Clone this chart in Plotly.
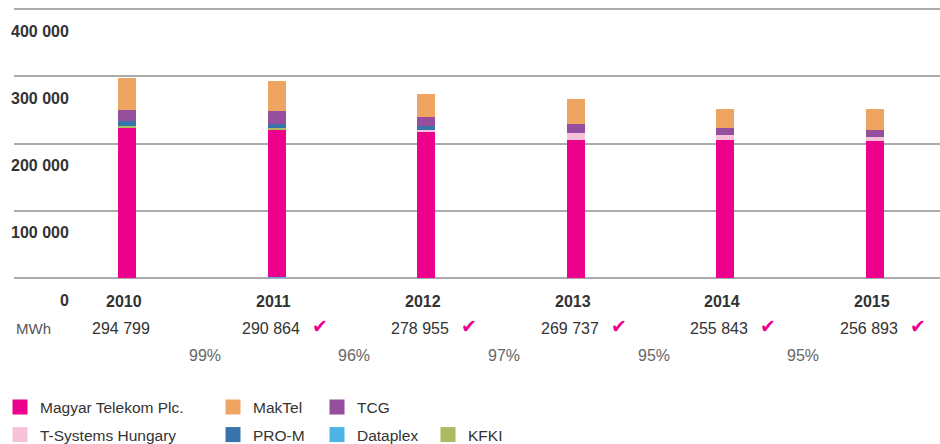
import plotly.graph_objects as go

# ---------------- data ----------------
years = ["2010", "2011", "2012", "2013", "2014", "2015"]
dataplex = [0, 1500, 0, 0, 0, 0]
magyar_telekom = [223300, 218600, 216700, 205200, 204800, 203300]
t_systems = [0, 0, 3400, 10400, 7400, 5900]
kfki = [2500, 3000, 0, 0, 0, 0]
pro_m = [7400, 5900, 6400, 0, 0, 0]
tcg = [16300, 19300, 13400, 13400, 10400, 10400]
maktel = [47900, 44500, 33700, 37100, 28200, 31200]

total_labels = ["294 799", "290 864", "278 955", "269 737", "255 843", "256 893"]
target_met = [False, True, True, True, True, True]
change_labels = ["99%", "96%", "97%", "95%", "95%"]
y_ticks = [0, 100000, 200000, 300000, 400000]
unit_label = "MWh"

# ---------------- styles ----------------
series = [
    ("Dataplex", dataplex, "#4DB3E6"),
    ("Magyar Telekom Plc.", magyar_telekom, "#EC008C"),
    ("T-Systems Hungary", t_systems, "#F6C2D9"),
    ("KFKI", kfki, "#ADBA62"),
    ("PRO-M", pro_m, "#3674AB"),
    ("TCG", tcg, "#964F9D"),
    ("MakTel", maktel, "#EFA561"),
]
legend_slots = {
    "Magyar Telekom Plc.": (14, 0), "MakTel": (227, 0), "TCG": (331, 0),
    "T-Systems Hungary": (14, 1), "PRO-M": (227, 1), "Dataplex": (331, 1),
    "KFKI": (442, 1),
}
legend_order = ["Magyar Telekom Plc.", "MakTel", "TCG", "T-Systems Hungary",
                "PRO-M", "Dataplex", "KFKI"]

W, H = 940, 444
PL, PR, PT, PB = 14, 940, 6, 278
TOP_GRID_PX = 9          # pixel row of the 400 000 gridline
FONT = "Liberation Sans, Arial, sans-serif"
DARK = "#333333"
GRID = "#ababab"

y_top = max(y_ticks)
y_max = y_top * (PB - PT) / (PB - TOP_GRID_PX)


def px_x(x):
    return (x - PL) / (PR - PL)


def px_y(y):
    return (PB - y) / (PB - PT)


fig = go.Figure()
for name, vals, col in series:
    fig.add_trace(go.Bar(x=years, y=vals, name=name, marker=dict(color=col, line=dict(width=0)),
                         showlegend=False, hoverinfo="skip"))

colors = {n: c for n, _, c in series}
for i, name in enumerate(legend_order):
    lid = "legend" if i == 0 else f"legend{i + 1}"
    fig.add_trace(go.Scatter(x=[None], y=[None], mode="markers", name=name,
                             marker=dict(symbol="square", size=15, color=colors[name],
                                         line=dict(width=0)),
                             legend=lid, showlegend=True, hoverinfo="skip"))
    sx, row = legend_slots[name]
    ypx = 407.5 if row == 0 else 435
    fig.update_layout({lid: dict(x=px_x(sx - 14), y=px_y(ypx), xanchor="left", yanchor="middle",
                                 bgcolor="rgba(0,0,0,0)", borderwidth=0,
                                 font=dict(family=FONT, size=15.5, color=DARK))})

ann = []
# y tick labels below their gridlines
for v in y_ticks:
    ann.append(dict(x=px_x(71), xref="paper", y=v, yref="y", xanchor="right", yanchor="middle",
                    yshift=-22, showarrow=False, text=f"{v:,}".replace(",", " "),
                    font=dict(family=FONT, size=16, color=DARK, weight="bold")))
# year labels, totals and checks
for i, yr in enumerate(years):
    ann.append(dict(x=i, xref="x", y=0, yref="y", yanchor="middle", yshift=-23, xshift=-3,
                    showarrow=False, text=yr,
                    font=dict(family=FONT, size=16, color=DARK, weight="bold")))
    ann.append(dict(x=i, xref="x", y=0, yref="y", yanchor="middle", yshift=-50, xshift=-6,
                    showarrow=False, text=total_labels[i],
                    font=dict(family=FONT, size=16, color=DARK)))
    if target_met[i]:
        ann.append(dict(x=i, xref="x", y=0, yref="y", yanchor="middle", yshift=-48, xshift=43,
                        showarrow=False, text="\u2714",
                        font=dict(family="DejaVu Sans", size=19, color="#EC008C")))
for i, pct in enumerate(change_labels):
    ann.append(dict(x=i + 0.5, xref="x", y=0, yref="y", yanchor="middle", yshift=-77.5, xshift=3,
                    showarrow=False, text=pct, font=dict(family=FONT, size=16, color="#666666")))
ann.append(dict(x=px_x(14), xref="paper", y=0, yref="y", xanchor="left", yanchor="middle",
                yshift=-50, showarrow=False, text=unit_label,
                font=dict(family=FONT, size=15, color="#555555")))

step = 149.6
x0 = -(127 - PL) / step
x1 = x0 + (PR - PL) / step

fig.update_layout(
    width=W, height=H,
    margin=dict(l=PL, r=W - PR, t=PT, b=H - PB, autoexpand=False),
    paper_bgcolor="white", plot_bgcolor="white",
    barmode="stack", bargap=0.88,
    showlegend=True,
    annotations=ann,
    xaxis=dict(type="category", range=[x0, x1], showgrid=False, showticklabels=False,
               zeroline=False, showline=False, ticks="", fixedrange=True),
    yaxis=dict(range=[0, y_max], tickvals=y_ticks, showticklabels=False, showgrid=True,
               gridcolor=GRID, gridwidth=1.5, zeroline=True, zerolinecolor=GRID,
               zerolinewidth=1.5, showline=False, ticks="", fixedrange=True),
    hovermode=False,
)

fig.write_html("out.html", config={"displayModeBar": False},
               post_script="document.body.style.margin='0';document.body.style.padding='0';")
